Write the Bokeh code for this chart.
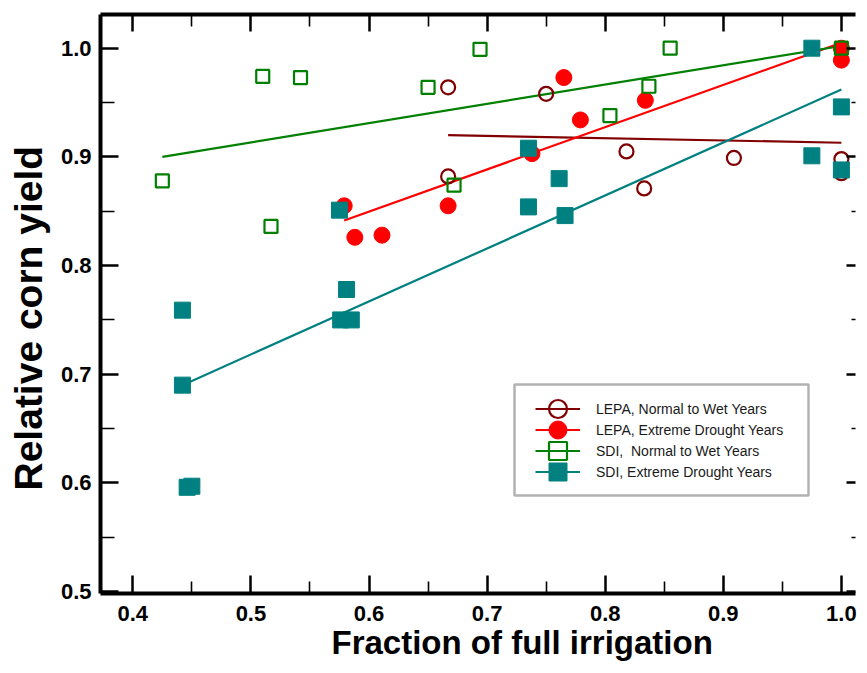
import math
from bokeh.plotting import figure
from bokeh.models import (Range1d, LinearAxis, FixedTicker, PrintfTickFormatter,
                          Legend, LegendItem, BoxAnnotation, Title, CustomLabelingPolicy)
from bokeh.embed import file_html
from bokeh.resources import INLINE

# ---------------- data ----------------
lepa_normal_x = [0.667, 0.667, 0.750, 0.818, 0.833, 0.909, 1.0, 1.0]
lepa_normal_y = [0.964, 0.882, 0.958, 0.905, 0.871, 0.899, 0.898, 0.885]

lepa_drought_x = [0.579, 0.588, 0.611, 0.667, 0.738, 0.765, 0.779, 0.834, 1.0, 1.0]
lepa_drought_y = [0.855, 0.826, 0.828, 0.855, 0.903, 0.973, 0.934, 0.952, 0.989, 1.0]

sdi_normal_x = [0.425, 0.510, 0.517, 0.542, 0.650, 0.672, 0.694, 0.804, 0.837, 0.855, 1.0]
sdi_normal_y = [0.878, 0.974, 0.836, 0.973, 0.964, 0.874, 0.999, 0.938, 0.965, 1.0, 1.0]

sdi_drought_x = [0.442, 0.442, 0.446, 0.450, 0.575, 0.576, 0.581, 0.585,
                 0.735, 0.735, 0.761, 0.766, 0.975, 0.975, 1.0, 1.0]
sdi_drought_y = [0.759, 0.690, 0.596, 0.597, 0.851, 0.750, 0.778, 0.750,
                 0.908, 0.854, 0.880, 0.846, 1.0, 0.901, 0.946, 0.888]

# fitted lines (end points)
lepa_normal_fit_x = [0.667, 1.0]
lepa_normal_fit_y = [0.920, 0.913]
lepa_drought_fit_x = [0.579, 1.0]
lepa_drought_fit_y = [0.8415, 1.005]
sdi_normal_fit_x = [0.425, 1.0]
sdi_normal_fit_y = [0.900, 1.002]
sdi_drought_fit_x = [0.442, 1.0]
sdi_drought_fit_y = [0.690, 0.962]

series_labels = ["LEPA, Normal to Wet Years", "LEPA, Extreme Drought Years",
                 "SDI,  Normal to Wet Years", "SDI, Extreme Drought Years"]

x_ticks = [0.4, 0.5, 0.6, 0.7, 0.8, 0.9, 1.0]
x_minor = [0.45, 0.55, 0.65, 0.75, 0.85, 0.95]
y_ticks = [0.5, 0.6, 0.7, 0.8, 0.9, 1.0]
y_minor = [0.55, 0.65, 0.75, 0.85, 0.95]

x_title = "Fraction of full irrigation"
y_title = "Relative corn yield"

# ---------------- figure ----------------
FONT = "Liberation Sans, Arial, Helvetica, sans-serif"

p = figure(width=859, height=665,
           x_range=Range1d(0.37263, 1.01195), y_range=Range1d(0.4983, 1.031),
           x_axis_type=None, y_axis_type=None,
           output_backend="svg", toolbar_location=None,
           min_border_left=97, min_border_right=0, min_border_top=14, min_border_bottom=72)
p.outline_line_color = None
p.background_fill_color = "white"
p.border_fill_color = "white"

no_labels = CustomLabelingPolicy(code="for (const i of indices) { indices.unset(i) }\nreturn indices")


def make_axis(ticks, minor, tick_in, minor_in, show_labels, standoff=0, line=True):
    ax = LinearAxis(ticker=FixedTicker(ticks=ticks, minor_ticks=minor),
                    formatter=PrintfTickFormatter(format="%.1f"))
    ax.major_tick_in = tick_in
    ax.major_tick_out = 0
    ax.minor_tick_in = minor_in
    ax.minor_tick_out = 0
    ax.major_tick_line_width = 2.5
    ax.minor_tick_line_width = 1.6
    ax.major_tick_line_color = "black"
    ax.minor_tick_line_color = "black"
    if line:
        ax.axis_line_width = 4
        ax.axis_line_color = "black"
    else:
        ax.axis_line_color = None
    ax.major_label_text_font = FONT
    ax.major_label_text_font_style = "bold"
    ax.major_label_text_color = "black"
    if show_labels:
        ax.major_label_text_font_size = "22px"
        ax.major_label_standoff = standoff
    else:
        ax.major_label_text_font_size = "1px"
        ax.major_label_standoff = 0
        ax.major_label_policy = no_labels
    return ax


p.add_layout(make_axis(x_ticks, x_minor, 18, 12, True, standoff=12), "below")
p.add_layout(make_axis(y_ticks, y_minor, 18, 14, True, standoff=9), "left")
p.add_layout(make_axis(x_ticks, x_minor, 17, 12, False), "above")
p.add_layout(make_axis(y_ticks, y_minor, 9, 4, False, line=False), "right")

# axis titles
p.add_layout(Title(text=x_title, align="left", offset=231, vertical_align="top", standoff=0,
                   text_font=FONT, text_font_style="bold", text_font_size="33px",
                   text_color="black"), "below")
p.add_layout(Title(text=y_title, align="left", offset=103, vertical_align="top", standoff=12,
                   text_font=FONT, text_font_style="bold", text_font_size="39px",
                   text_color="black"), "left")

DARKRED = "#800000"
RED = "#ff0000"
GREEN = "#008000"
TEAL = "#008080"

l1 = p.line(lepa_normal_fit_x, lepa_normal_fit_y, line_color=DARKRED, line_width=2.2)
l2 = p.line(lepa_drought_fit_x, lepa_drought_fit_y, line_color=RED, line_width=2.2)
l3 = p.line(sdi_normal_fit_x, sdi_normal_fit_y, line_color=GREEN, line_width=2.2)
l4 = p.line(sdi_drought_fit_x, sdi_drought_fit_y, line_color=TEAL, line_width=2.2)

s1 = p.scatter(lepa_normal_x, lepa_normal_y, marker="circle", size=14,
               fill_color=None, line_color=DARKRED, line_width=2.2)
s2 = p.scatter(lepa_drought_x, lepa_drought_y, marker="circle", size=16,
               fill_color=RED, line_color=RED, line_width=1)
s3 = p.scatter(sdi_normal_x, sdi_normal_y, marker="square", size=13,
               fill_color=None, line_color=GREEN, line_width=2.2)
s4 = p.scatter(sdi_drought_x, sdi_drought_y, marker="square", size=16,
               fill_color=TEAL, line_color=TEAL, line_width=1)

# legend frame
box = BoxAnnotation(left=414, right=708, top=209, bottom=98,
                    left_units="screen", right_units="screen",
                    top_units="screen", bottom_units="screen",
                    fill_color="white", fill_alpha=1.0,
                    line_color="black", line_width=2.5)
p.add_layout(box)

# one legend per row, so that the rows sit close while markers stay large
row_renderers = [[l1, s1], [l2, s2], [l3, s3], [l4, s4]]
row_bottoms = [162, 141, 120, 99]
for label, rends, yb in zip(series_labels, row_renderers, row_bottoms):
    lg = Legend(items=[LegendItem(label=label, renderers=rends)],
                location=(435, yb), orientation="vertical",
                padding=0, spacing=0, margin=0,
                glyph_width=45, glyph_height=45, label_height=20, label_standoff=16,
                label_text_font=FONT, label_text_font_size="14px",
                label_text_color="#1a1a1a",
                border_line_color=None, background_fill_alpha=0)
    p.add_layout(lg, "center")

open("out.html", "w").write(file_html(p, INLINE))
